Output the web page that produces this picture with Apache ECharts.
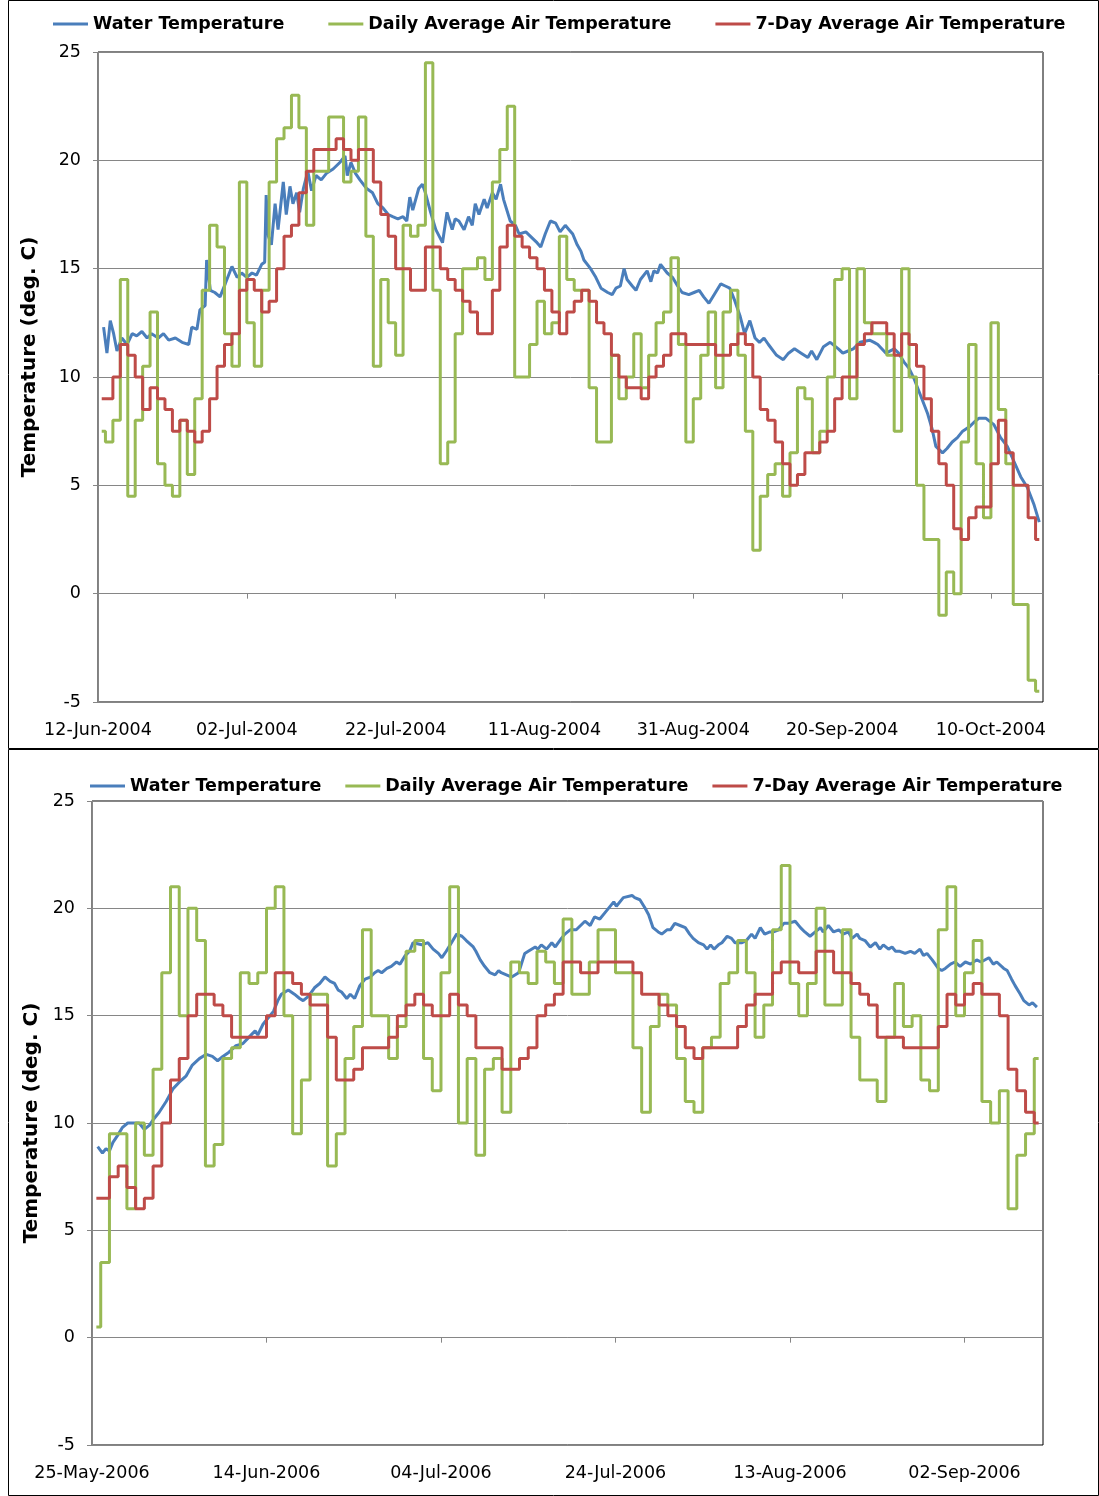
<!DOCTYPE html>
<html><head><meta charset="utf-8">
<script src="https://cdn.jsdelivr.net/npm/echarts/dist/echarts.min.js"></script>
<style>html,body{margin:0;padding:0;background:#fff}#c{width:1099px;height:1496px}</style>
</head><body><div id="c"></div>
<script>
const seriesNames = ['Water Temperature', 'Daily Average Air Temperature', '7-Day Average Air Temperature'];
const yTitle = 'Temperature (deg. C)';
const topXLabels = ['12-Jun-2004', '02-Jul-2004', '22-Jul-2004', '11-Aug-2004', '31-Aug-2004', '20-Sep-2004', '10-Oct-2004'];
const bottomXLabels = ['25-May-2006', '14-Jun-2006', '04-Jul-2006', '24-Jul-2006', '13-Aug-2006', '02-Sep-2006'];

// ---- 2004 panel (x = days since 12-Jun-2004) ----
const topWaterDays = [0.75,1.2,1.65,2.1,2.55,3.2,3.9,4.6,5.2,5.9,6.6,7.2,8.1,8.8,9.5,10.4,11.3,12.2,12.6,13.3,13.7,14.4,14.6,15.1,15.7,16.4,17.1,18.0,18.7,19.3,20.0,20.7,21.3,
22.0,22.4,22.6,22.9,23.3,23.8,24.2,24.9,25.3,25.8,26.2,26.7,27.1,27.6,28.2,28.7,29.3,30.0,30.7,31.6,32.5,33.2,33.5,34.0,34.6,35.2,36.1,36.9,37.6,38.3,39.0,39.6,40.3,41.0,41.5,41.9,42.3,43.1,43.6,44.0,44.7,45.4,46.3,46.9,47.6,48.0,48.5,49.2,49.8,50.3,50.7,51.2,51.9,52.3,53.0,53.5,54.1,54.5,55.4,56.1,56.6,57.5,58.4,59.0,59.5,60.1,60.8,61.5,62.1,62.8,63.3,63.8,64.4,64.9,65.3,66.2,66.9,67.6,68.5,69.1,69.6,70.2,70.7,71.1,71.8,72.3,72.9,73.8,74.3,74.7,75.2,75.6,76.5,77.2,77.9,78.5,79.4,80.1,80.8,81.4,82.1,82.8,83.7,84.3,84.9,85.6,86.3,86.9,87.6,88.3,88.9,89.5,90.1,91.2,92.1,92.8,93.6,94.5,95.4,95.9,96.6,97.5,98.4,99.5,100.1,100.8,101.5,102.4,103.7,104.3,104.8,105.9,107.0,107.6,108.3,109.0,109.7,110.6,111.5,112.1,112.6,113.5,114.1,114.8,115.5,116.2,117.1,117.7,118.4,119.3,120.4,121.3,122.2,123.1,124.0,124.9,125.8,126.5];
const topWaterVals = [12.3,11.1,12.6,12.0,11.2,11.8,11.5,12.0,11.9,12.1,11.8,12.0,11.8,12.0,11.7,11.8,11.6,11.5,12.3,12.2,13.1,13.3,15.4,14.0,13.9,13.7,14.3,15.1,14.6,14.8,14.6,14.8,14.7,
15.2,15.3,18.4,16.5,16.1,18.0,16.8,19.0,17.5,18.8,18.0,18.5,17.6,18.7,19.5,18.6,19.3,19.1,19.4,19.6,19.9,20.2,19.3,19.9,19.4,19.1,18.7,18.5,18.0,17.8,17.5,17.4,17.3,17.4,17.2,18.3,17.7,18.7,18.9,18.5,17.6,16.8,16.2,17.6,16.8,17.3,17.2,16.8,17.4,17.0,18.0,17.5,18.2,17.8,18.5,18.2,18.9,18.2,17.2,17.0,16.6,16.7,16.4,16.2,16.0,16.6,17.2,17.1,16.7,17.0,16.8,16.6,16.1,15.8,15.4,15.0,14.6,14.1,13.9,13.8,14.1,14.2,15.0,14.5,14.2,14.0,14.5,14.9,14.4,14.9,14.8,15.2,14.8,14.6,14.2,13.9,13.8,13.9,14.0,13.7,13.4,13.8,14.3,14.2,14.1,13.5,12.8,12.0,12.6,11.8,11.6,11.8,11.5,11.0,10.8,11.1,11.3,11.1,10.9,11.2,10.8,11.4,11.6,11.3,11.1,11.2,11.3,11.6,11.7,11.6,11.5,11.1,11.3,11.1,10.7,10.4,9.9,9.1,8.3,7.6,6.8,6.5,6.7,7.0,7.2,7.5,7.7,7.9,8.1,8.1,7.8,7.2,6.8,6.1,5.4,4.9,4.1,3.3];
const topDailyAir = [7.5,7.0,8.0,14.5,4.5,8.0,10.5,13.0,6.0,5.0,4.5,8.0,5.5,9.0,14.0,17.0,16.0,12.0,10.5,19.0,12.5,10.5,14.0,19.0,21.0,21.5,23.0,21.5,17.0,19.5,19.5,22.0,22.0,19.0,19.5,22.0,16.5,10.5,14.5,12.5,11.0,17.0,16.5,17.0,24.5,14.0,6.0,7.0,12.0,15.0,15.0,15.5,14.5,19.0,20.5,22.5,10.0,10.0,11.5,13.5,12.0,12.5,16.5,14.5,14.0,14.0,9.5,7.0,7.0,11.0,9.0,10.0,12.0,9.5,11.0,12.5,13.0,15.5,11.5,7.0,9.0,11.0,13.0,9.5,13.0,14.0,11.0,7.5,2.0,4.5,5.5,6.0,4.5,6.5,9.5,9.0,6.5,7.5,10.0,14.5,15.0,9.0,15.0,12.5,12.0,12.0,11.0,7.5,15.0,10.0,5.0,2.5,2.5,-1.0,1.0,0.0,7.0,11.5,6.0,3.5,12.5,8.5,6.0,-0.5,-0.5,-4.0,-4.5];
const top7DayAir = [9.0,9.0,10.0,11.5,11.0,10.0,8.5,9.5,9.0,8.5,7.5,8.0,7.5,7.0,7.5,9.0,10.5,11.5,12.0,14.0,14.5,14.0,13.0,13.5,15.0,16.5,17.0,18.5,19.5,20.5,20.5,20.5,21.0,20.5,20.0,20.5,20.5,19.0,17.5,16.5,15.0,15.0,14.0,14.0,16.0,16.0,15.0,14.5,14.0,13.5,13.0,12.0,12.0,14.0,16.0,17.0,16.5,16.0,15.5,15.0,14.0,13.0,12.0,13.0,13.5,14.0,13.5,12.5,12.0,11.0,10.0,9.5,9.5,9.0,10.0,10.5,11.0,12.0,12.0,11.5,11.5,11.5,11.5,11.0,11.0,11.5,12.0,11.5,10.0,8.5,8.0,7.0,6.0,5.0,5.5,6.5,6.5,7.0,7.5,9.0,10.0,10.0,11.5,12.0,12.5,12.5,12.0,11.0,12.0,11.5,10.5,9.0,7.5,6.0,5.0,3.0,2.5,3.5,4.0,4.0,6.0,8.0,6.5,5.0,5.0,3.5,2.5];

// ---- 2006 panel (x = days since 25-May-2006) ----
const botWaterDays = [0.65,1.2,1.6,2.0,2.4,2.9,3.5,4.1,5.4,6.0,6.6,7.1,7.7,8.5,9.3,10.0,10.8,11.5,12.3,13.1,13.8,14.4,15.0,15.7,16.5,17.3,18.0,18.7,19.0,19.6,20.2,20.8,21.3,21.7,22.5,23.2,23.8,24.2,24.8,25.5,26.1,26.7,27.3,27.8,28.2,28.6,29.2,29.6,30.1,30.7,31.3,31.9,32.4,32.8,33.2,33.8,34.3,34.9,35.3,35.9,36.4,36.8,37.8,38.5,39.1,39.7,40.1,40.6,41.2,41.8,42.4,42.9,43.7,44.0,44.5,45.0,45.6,46.2,46.6,46.9,47.5,48.1,48.9,49.6,50.0,50.8,51.1,51.5,52.1,52.7,53.1,53.8,54.2,54.8,55.5,56.5,57.1,57.6,58.2,58.8,59.8,60.1,60.9,61.9,62.2,62.8,63.4,63.8,64.3,64.9,65.3,65.9,66.3,66.8,67.4,68.0,68.5,68.9,69.5,70.1,70.5,70.9,71.3,71.8,72.2,72.8,73.3,73.7,74.5,75.0,75.6,76.0,76.6,77.1,77.7,78.1,78.7,79.3,79.8,80.6,81.2,81.7,82.3,82.9,83.5,83.8,84.4,85.0,85.6,86.1,86.7,87.1,87.7,88.0,88.6,89.2,89.8,90.3,90.7,91.3,91.7,92.1,92.6,93.2,93.8,94.3,94.9,95.3,95.7,96.3,97.0,97.4,97.8,98.4,98.9,99.5,100.1,100.7,101.4,101.9,102.8,103.3,103.7,104.5,104.9,105.4,105.8,106.4,106.8,107.4,107.8,108.3];
const botWaterVals = [8.9,8.6,8.8,8.7,9.1,9.4,9.8,10.0,10.0,9.7,9.9,10.2,10.5,11.0,11.6,11.9,12.2,12.7,13.0,13.2,13.1,12.9,13.1,13.3,13.6,13.7,14.0,14.3,14.1,14.6,14.9,15.2,15.7,16.0,16.2,16.0,15.8,15.7,15.9,16.3,16.5,16.8,16.6,16.5,16.2,16.1,15.8,16.0,15.8,16.4,16.7,16.8,17.0,17.1,17.0,17.2,17.3,17.5,17.4,17.8,18.0,18.4,18.3,18.4,18.1,17.9,17.7,18.0,18.4,18.8,18.7,18.5,18.2,18.0,17.6,17.3,17.0,16.9,17.1,17.0,16.9,16.8,17.0,17.9,18.0,18.2,18.1,18.3,18.1,18.4,18.2,18.6,18.8,19.0,19.0,19.4,19.2,19.6,19.5,19.8,20.3,20.1,20.5,20.6,20.5,20.4,20.0,19.7,19.1,18.9,18.8,19.0,19.0,19.3,19.2,19.1,18.8,18.6,18.4,18.3,18.1,18.3,18.1,18.3,18.4,18.7,18.6,18.4,18.4,18.5,18.8,18.6,19.1,18.8,18.9,18.9,19.0,19.3,19.3,19.4,19.1,18.9,18.7,18.9,19.1,18.9,19.2,18.9,19.0,18.8,18.9,18.6,18.8,18.6,18.5,18.2,18.4,18.1,18.3,18.1,18.2,18.0,18.0,17.9,18.0,17.9,18.1,17.8,17.9,17.6,17.2,17.1,17.2,17.4,17.5,17.3,17.5,17.4,17.6,17.5,17.7,17.4,17.5,17.2,17.1,16.7,16.4,16.0,15.7,15.5,15.6,15.4];
const botDailyAir = [0.5,3.5,9.5,9.5,6.0,10.0,8.5,12.5,17.0,21.0,15.0,20.0,18.5,8.0,9.0,13.0,13.5,17.0,16.5,17.0,20.0,21.0,15.0,9.5,12.0,16.0,16.0,8.0,9.5,13.0,14.5,19.0,15.0,15.0,13.0,14.5,18.0,18.5,13.0,11.5,17.0,21.0,10.0,13.0,8.5,12.5,13.0,10.5,17.5,17.0,16.5,18.0,17.5,16.5,19.5,16.0,16.0,17.5,19.0,19.0,17.0,17.0,13.5,10.5,14.5,16.0,15.5,13.0,11.0,10.5,13.5,14.0,16.5,17.0,18.5,17.0,14.0,15.5,19.0,22.0,16.5,15.0,16.5,20.0,15.5,15.5,19.0,14.0,12.0,12.0,11.0,14.0,16.5,14.5,15.0,12.0,11.5,19.0,21.0,15.0,17.0,18.5,11.0,10.0,11.5,6.0,8.5,9.5,13.0];
const bot7DayAir = [6.5,6.5,7.5,8.0,7.0,6.0,6.5,8.0,10.0,12.0,13.0,15.0,16.0,16.0,15.5,15.0,14.0,14.0,14.0,14.0,15.0,17.0,17.0,16.5,16.0,15.5,15.5,14.0,12.0,12.0,12.5,13.5,13.5,13.5,14.0,15.0,15.5,16.0,15.5,15.0,15.0,16.0,15.5,15.0,13.5,13.5,13.5,12.5,12.5,13.0,13.5,15.0,15.5,16.0,17.5,17.5,17.0,17.0,17.5,17.5,17.5,17.5,17.0,16.0,16.0,15.5,15.0,14.5,13.5,13.0,13.5,13.5,13.5,13.5,14.5,15.5,16.0,16.0,17.0,17.5,17.5,17.0,17.0,18.0,18.0,17.0,17.0,16.5,16.0,15.5,14.0,14.0,14.0,13.5,13.5,13.5,13.5,14.5,16.0,15.5,16.0,16.5,16.0,16.0,15.0,12.5,11.5,10.5,10.0];

const COLORS = ['#4A7EBB', '#98B954', '#BE4B48'];
const FONT = 'DejaVu Sans';
const GRID_GRAY = '#868686';

function pairs(xs, ys) { return xs.map((x, i) => [x, ys[i]]); }
function daily(vals) { return vals.map((v, i) => [i + 0.5, v]); }

function xAxisFor(gridIndex, max, labels) {
  return {
    gridIndex, type: 'value', min: 0, max, interval: 20,
    axisLine: { show: true, lineStyle: { color: GRID_GRAY, width: 1 } },
    axisTick: { show: true, length: 5, lineStyle: { color: GRID_GRAY } },
    splitLine: { show: false },
    axisLabel: {
      show: true, showMaxLabel: false, margin: 19, color: '#000', fontFamily: FONT, fontSize: 17.5,
      formatter: v => (v % 20 === 0 && labels[v / 20]) ? labels[v / 20] : ''
    }
  };
}
function yAxisFor(gridIndex, nameGap, shift) {
  return {
    gridIndex, type: 'value', min: -5, max: 25, interval: 5,
    name: yTitle, nameLocation: 'middle', nameRotate: 90, nameGap,
    nameTextStyle: { fontFamily: FONT, fontWeight: 'bold', fontSize: 20, color: '#000', padding: [0, 0, 0, shift] },
    axisLine: { show: true, lineStyle: { color: GRID_GRAY, width: 1 } },
    axisTick: { show: true, length: 5, lineStyle: { color: GRID_GRAY } },
    splitLine: { show: true, lineStyle: { color: GRID_GRAY, width: 1 } },
    axisLabel: { margin: 17, color: '#000', fontFamily: FONT, fontSize: 17.5 }
  };
}
function lineSeries(name, idx, data, colorIdx, step) {
  const s = {
    name, type: 'line', xAxisIndex: idx, yAxisIndex: idx, data,
    showSymbol: false, symbol: 'none', color: COLORS[colorIdx],
    lineStyle: { color: COLORS[colorIdx], width: 3 }, emphasis: { disabled: true }
  };
  if (step) s.step = 'middle';
  return s;
}
function legendFor(left, top, gap) {
  return {
    data: seriesNames, left, top, orient: 'horizontal', itemGap: gap,
    icon: 'rect', itemWidth: 35, itemHeight: 3,
    textStyle: { fontFamily: FONT, fontWeight: 'bold', fontSize: 17.5, color: '#000' },
    selectedMode: false
  };
}

const chart = echarts.init(document.getElementById('c'), null, { renderer: 'canvas' });
chart.setOption({
  animation: false,
  backgroundColor: '#fff',
  legend: [legendFor(48, 10, 44), legendFor(85, 772, 24)],
  grid: [
    { left: 98, top: 52, width: 945, height: 650, show: true, borderColor: '#000', borderWidth: 1, backgroundColor: 'transparent' },
    { left: 92, top: 801, width: 951, height: 644, show: true, borderColor: '#000', borderWidth: 1, backgroundColor: 'transparent' }
  ],
  xAxis: [xAxisFor(0, 127, topXLabels), xAxisFor(1, 109, bottomXLabels)],
  yAxis: [yAxisFor(0, 58, 40), yAxisFor(1, 49, 0)],
  graphic: [
    { type: 'rect', shape: { x: 8.5, y: 0.5, width: 1090, height: 748 }, style: { fill: 'none', stroke: '#000', lineWidth: 1 }, silent: true },
    { type: 'rect', shape: { x: 8.5, y: 749.5, width: 1090, height: 746 }, style: { fill: 'none', stroke: '#000', lineWidth: 1 }, silent: true }
  ],
  series: [
    lineSeries(seriesNames[0], 0, pairs(topWaterDays, topWaterVals), 0, false),
    lineSeries(seriesNames[1], 0, daily(topDailyAir), 1, true),
    lineSeries(seriesNames[2], 0, daily(top7DayAir), 2, true),
    lineSeries(seriesNames[0], 1, pairs(botWaterDays, botWaterVals), 0, false),
    lineSeries(seriesNames[1], 1, daily(botDailyAir), 1, true),
    lineSeries(seriesNames[2], 1, daily(bot7DayAir), 2, true)
  ]
});
</script>
</body></html>
